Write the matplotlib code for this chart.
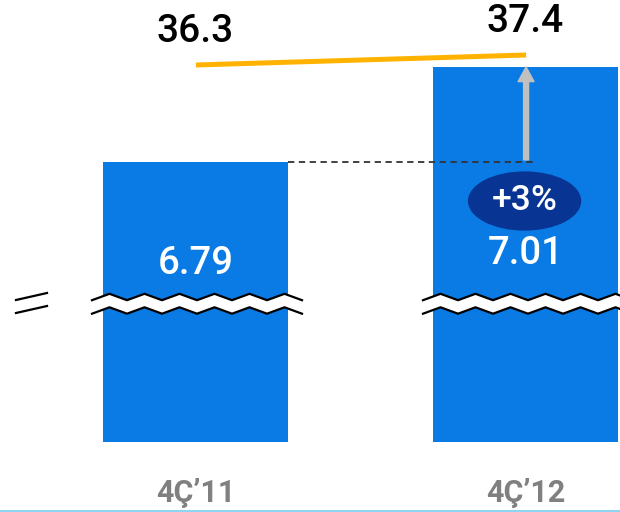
import matplotlib.pyplot as plt
import numpy as np
from matplotlib.patches import Ellipse, Polygon

categories = ["4Ç’11", "4Ç’12"]
bar_values = [6.79, 7.01]
line_values = [36.3, 37.4]
change_label = "+3%"

W, H = 620, 512
bar_color = "#0A7BE5"
plt.rcParams["font.family"] = ["Roboto", "DejaVu Sans"]

fig = plt.figure(figsize=(W / 100, H / 100), dpi=100)
ax = fig.add_axes([0, 0, 1, 1])
ax.axis("off")

# broken axis: bars start from a hidden baseline
base = 6.1416
px_unit = 431.8
ax.set_xlim(-0.592, 1.286)
ax.set_ylim(5.9795, 7.1652)

x = np.arange(len(categories))
ax.bar(x, np.array(bar_values) - base, bottom=base, width=0.562, color=bar_color, zorder=1)


def fig_xy(px, py):
    return px / W, 1 - py / H


def py2v(py):
    return base + (442 - py) / px_unit


# value labels inside bars
for xi, v, py in zip(x, bar_values, [264, 254]):
    ax.text(xi, py2v(py), f"{v:.2f}", color="white", fontsize=27.5, fontweight="medium",
            ha="center", va="center", zorder=5)

# dashed reference line and arrow
ax.plot([x[0] + 0.281, x[1] + 0.023], [bar_values[0]] * 2, color="#333333",
        linewidth=1.3, dashes=(3.5, 2.5), zorder=3)
ax.annotate("", xy=(x[1] + 0.0015, bar_values[1]), xytext=(x[1] + 0.0015, bar_values[0] + 0.005),
            arrowprops=dict(facecolor="#C0C0C0", edgecolor="#C0C0C0", width=3.6,
                            headwidth=11.5, headlength=10.5, shrink=0), zorder=4)

# +3% badge
ax.add_patch(Ellipse((x[1] - 0.003, py2v(201)), 0.339, 0.134, color="#083594", zorder=5))
ax.text(x[1] - 0.003, py2v(201), change_label, color="white", fontsize=25.5, fontweight="medium",
        ha="center", va="center", zorder=6)

# zigzag break marks
def zigzag(x0, x1, y0, period=35, amp=3.2):
    xs = np.arange(x0, x1 + period / 2, period / 2)
    ys = np.array([y0 + (amp if i % 2 == 0 else -amp) for i in range(len(xs))])
    return xs, ys


for bx0, bx1 in [(92, 300), (423, 622)]:
    xs, ytop = zigzag(bx0, bx1, 297)
    _, ybot = zigzag(bx0, bx1, 310.5)
    pts = [fig_xy(a, b) for a, b in zip(xs, ytop)] + [fig_xy(a, b) for a, b in zip(xs[::-1], ybot[::-1])]
    fig.add_artist(Polygon(pts, closed=True, facecolor="white", edgecolor="none",
                           transform=fig.transFigure, zorder=7))
    for ys in (ytop, ybot):
        fx, fy = zip(*[fig_xy(a, b) for a, b in zip(xs, ys)])
        fig.add_artist(plt.Line2D(fx, fy, color="black", linewidth=1.6,
                                  transform=fig.transFigure, zorder=8))

# axis break mark on the left
for y0 in (300, 313):
    fx, fy = zip(fig_xy(16, y0), fig_xy(47, y0 - 7))
    fig.add_artist(plt.Line2D(fx, fy, color="black", linewidth=1.6, transform=fig.transFigure))

# category labels
for xi, c in zip(x, categories):
    fx, fy = fig_xy(195.5 + 330 * xi, 493)
    fig.text(fx, fy, c, color="#808080", fontsize=22, fontweight="bold", ha="center", va="center")

# line series on a twin axis
ax2 = ax.twinx()
ax2.axis("off")
ax2.set_ylim(-12.87, 43.45)
ax2.plot(x + 0.0015, line_values, color="#FFB300", linewidth=3.6, solid_capstyle="butt")
for xi, v in zip(x, line_values):
    ax2.annotate(f"{v:.1f}", (xi, v), xytext=(0, 33), textcoords="offset pixels",
                 fontsize=28, fontweight="medium", ha="center", va="center", color="black")

# bottom rule
fig.add_artist(plt.Line2D([0, 1], [1 / H, 1 / H], color="#8FD3F5", linewidth=1.5,
                          transform=fig.transFigure))

fig.savefig("out.png", dpi=100)
